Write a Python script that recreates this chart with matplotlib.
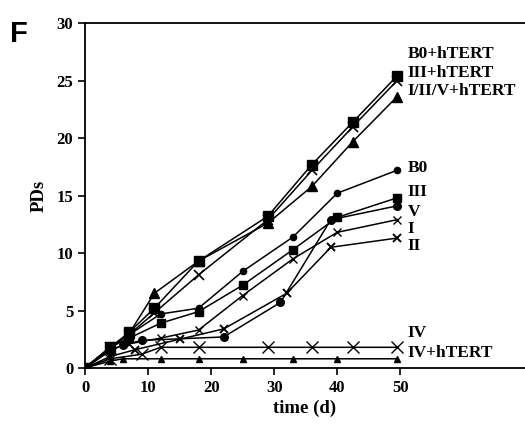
import numpy as np
import matplotlib
matplotlib.use('Agg')
import matplotlib.pyplot as plt

plt.rcParams['font.family'] = ['Liberation Serif', 'DejaVu Serif']
plt.rcParams['font.weight'] = 'bold'

# growth curves, population doublings vs days
t_b0h = [0, 4, 7, 11, 18, 29, 36, 42.5, 49.5]
pd_b0h = [0, 1.8, 3.1, 5.2, 9.3, 13.2, 17.7, 21.4, 25.4]
t_iiih = [0, 4, 7, 11, 18, 29, 36, 42.5, 49.5]
pd_iiih = [0, 1.8, 2.9, 4.8, 8.1, 12.9, 17.2, 21.0, 25.0]
t_i2vh = [0, 4, 7, 11, 18, 29, 36, 42.5, 49.5]
pd_i2vh = [0, 1.7, 3.0, 6.5, 9.3, 12.6, 15.8, 19.7, 23.6]

t_b0 = [0, 4, 7, 12, 18, 25, 33, 40, 49.5]
pd_b0 = [0, 1.8, 2.9, 4.7, 5.2, 8.4, 11.4, 15.2, 17.2]
t_iii = [0, 4, 7, 12, 18, 25, 33, 40, 49.5]
pd_iii = [0, 1.8, 2.6, 3.9, 4.9, 7.2, 10.3, 13.1, 14.8]
t_v = [0, 4, 6, 9, 22, 31, 39, 49.5]
pd_v = [0, 1.5, 2.0, 2.4, 2.7, 5.7, 12.9, 14.1]
t_i = [0, 4, 7, 12, 18, 25, 33, 40, 49.5]
pd_i = [0, 1.6, 2.1, 2.6, 3.3, 6.3, 9.5, 11.8, 12.9]
t_ii = [0, 4, 8, 15, 22, 32, 39, 49.5]
pd_ii = [0, 1.0, 1.6, 2.5, 3.4, 6.5, 10.5, 11.3]

t_iv = [0, 4, 9, 12, 18, 29, 36, 42.5, 49.5]
pd_iv = [0, 0.8, 1.2, 1.8, 1.8, 1.8, 1.8, 1.8, 1.8]
t_ivh = [0, 4, 6, 12, 18, 25, 33, 40, 49.5]
pd_ivh = [0, 0.6, 0.8, 0.8, 0.8, 0.8, 0.8, 0.8, 0.8]

labels = ['B0+hTERT', 'III+hTERT', 'I/II/V+hTERT', 'B0', 'III', 'V', 'I', 'II', 'IV', 'IV+hTERT']
label_y = [27.3, 25.7, 24.1, 17.4, 15.3, 13.6, 12.1, 10.6, 3.0, 1.3]

fig = plt.figure(figsize=(5.25, 4.36), dpi=100)
ax = fig.add_axes([0.162, 0.156, 0.838, 0.791])

kw = dict(color='black', lw=1.1, mfc='black', mec='black')
ax.plot(t_b0h, pd_b0h, marker='s', ms=6.5, **kw)
ax.plot(t_iiih, pd_iiih, marker='x', ms=7, mew=1.2, **kw)
ax.plot(t_i2vh, pd_i2vh, marker='^', ms=6.5, **kw)
ax.plot(t_b0, pd_b0, marker='o', ms=4.5, **kw)
ax.plot(t_iii, pd_iii, marker='s', ms=6, **kw)
ax.plot(t_v, pd_v, marker='o', ms=5.5, **kw)
ax.plot(t_i, pd_i, marker='x', ms=6, mew=1.0, **kw)
ax.plot(t_ii, pd_ii, marker='x', ms=6, mew=1.4, **kw)
ax.plot(t_iv, pd_iv, marker='x', ms=8, mew=1.0, **kw)
ax.plot(t_ivh, pd_ivh, marker='^', ms=5, **kw)

for lab, y in zip(labels, label_y):
    ax.text(51.2, y, lab, fontsize=12.5, fontweight='bold', va='center', ha='left')

ax.set_xlim(0, 69.8)
ax.set_ylim(0, 30)
ax.set_xticks([0, 10, 20, 30, 40, 50])
ax.set_yticks([0, 5, 10, 15, 20, 25, 30])
ax.tick_params(direction='out', length=5, width=1.2, labelsize=12)
for lab in ax.get_xticklabels() + ax.get_yticklabels():
    lab.set_fontweight('bold')
ax.spines['right'].set_visible(False)
for s in ['left', 'bottom', 'top']:
    ax.spines[s].set_linewidth(1.3)

ax.set_xlabel('time (d)', fontsize=13.5, fontweight='bold', labelpad=3)
ax.set_ylabel('PDs', fontsize=13.5, fontweight='bold', labelpad=6)

fig.text(0.02, 0.955, 'F', fontsize=21, fontweight='bold', family='Liberation Sans', va='top')

fig.savefig('out.png', dpi=100)
